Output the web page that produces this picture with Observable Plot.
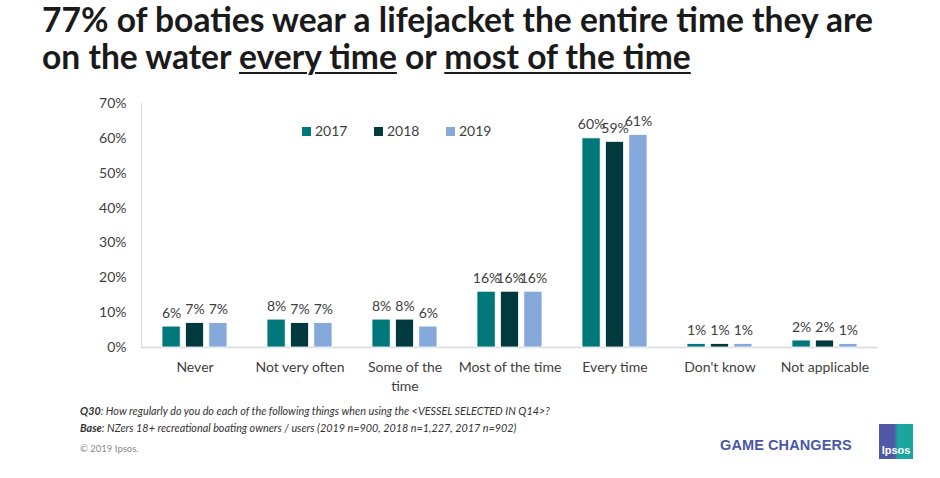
<!DOCTYPE html>
<html>
<head>
<meta charset="utf-8">
<script src="https://cdn.jsdelivr.net/npm/d3@7"></script>
<script src="https://cdn.jsdelivr.net/npm/@observablehq/plot@0.6"></script>
<style>
  html, body { margin: 0; padding: 0; background: #fff; }
  #wrap { position: relative; width: 940px; height: 478px; overflow: hidden; font-family: Lato, "Open Sans", sans-serif; color: #404040; }
  #title { position: absolute; left: 42px; top: 1px; font-weight: bold; font-size: 33.6px; line-height: 37px; color: #1a1a1a; white-space: nowrap; }
  #title u { text-decoration-thickness: 2px; text-underline-offset: 3px; }
  #chart { position: absolute; left: 0; top: 90px; }
  #legend { position: absolute; top: 122px; left: 0; font-size: 14px; color: #404040; }
  #legend span.item { position: absolute; white-space: nowrap; }
  #legend span.sw { display: inline-block; width: 9px; height: 9px; margin-right: 4px; vertical-align: 0px; }
  .foot { position: absolute; left: 80px; font-size: 10.8px; font-style: italic; color: #333; white-space: nowrap; }
  .foot b { font-style: italic; }
  #copy { position: absolute; left: 80px; top: 443px; font-size: 9.5px; color: #8a8a8a; }
  #gc { position: absolute; left: 720px; top: 437px; font-size: 14.5px; font-weight: bold; color: #4a58a8; font-family: "Liberation Sans", Arial, sans-serif; letter-spacing: 0.1px; }
  #logo { position: absolute; left: 879px; top: 424px; width: 34px; height: 35px; background: linear-gradient(90deg, #5159a6 0%, #5159a6 45%, #1aa59f 55%, #1aa59f 100%); }
  #logo span { position: absolute; bottom: 3px; left: 0; width: 34px; text-align: center; color: #fff; font-weight: bold; font-size: 11px; font-family: "Liberation Sans", Arial, sans-serif; }
</style>
</head>
<body>
<div id="wrap">
  <div id="title">77% of boaties wear a lifejacket the entire time they are<br>on the water <u>every time</u> or <u>most of the time</u></div>
  <div id="chart"></div>
  <div id="legend"></div>
  <div class="foot" style="top:404px"><b>Q30</b>: How regularly do you do each of the following things when using the &lt;VESSEL SELECTED IN Q14&gt;?</div>
  <div class="foot" style="top:421px"><b>Base</b>: NZers 18+ recreational boating owners / users (2019 n=900, 2018 n=1,227, 2017 n=902)</div>
  <div id="copy">© 2019 Ipsos.</div>
  <div id="gc">GAME CHANGERS</div>
  <div id="logo"><span>Ipsos</span></div>
</div>
<script>
const categories = ["Never", "Not very often", "Some of the time", "Most of the time", "Every time", "Don't know", "Not applicable"];
const years = ["2017", "2018", "2019"];
const values2017 = [6, 8, 8, 16, 60, 1, 2];
const values2018 = [7, 7, 8, 16, 59, 1, 2];
const values2019 = [7, 7, 6, 16, 61, 1, 1];
const colors = ["#00777b", "#003a3f", "#86a9dc"];
const yTicks = [0, 10, 20, 30, 40, 50, 60, 70];
const tickLabels = {"Some of the time": "Some of the\ntime"};

const series = [values2017, values2018, values2019];
const rows = [];
years.forEach((yr, i) => categories.forEach((c, j) => rows.push({cat: c, year: yr, value: series[i][j]})));

const offsets = [-23.4, 0, 23.4];
const inset = 43.4;

const marks = [];
years.forEach((yr, i) => {
  const data = rows.filter(d => d.year === yr);
  marks.push(Plot.barY(data, {x: "cat", y: "value", fill: colors[i], stroke: "#ffffff", strokeWidth: 0.8, insetLeft: inset, insetRight: inset, dx: offsets[i]}));
  marks.push(Plot.text(data, {x: "cat", y: "value", text: d => d.value + "%", dx: offsets[i], dy: -9, lineAnchor: "bottom", fontSize: 14, fill: "#404040"}));
});

const plot = Plot.plot({
  width: 940,
  height: 312,
  marginLeft: 141,
  marginRight: 62,
  marginTop: 13,
  marginBottom: 55,
  style: {fontFamily: "Lato, 'Open Sans', sans-serif", fontSize: "14px", color: "#404040", background: "transparent"},
  x: {domain: categories, padding: 0},
  y: {domain: [0, 70]},
  marks: [
    Plot.frame({anchor: "left", stroke: "#d9d9d9"}),
    Plot.ruleY([0], {stroke: "#d9d9d9", strokeWidth: 1.5}),
    Plot.axisY({ticks: yTicks, tickFormat: d => d + "%", tickSize: 0, tickPadding: 15, fontSize: 14, fill: "#404040", label: null}),
    Plot.axisX({tickSize: 0, tickPadding: 12, fontSize: 14, fill: "#404040", label: null, lineHeight: 1.3, tickFormat: d => tickLabels[d] || d}),
    ...marks
  ]
});
document.getElementById("chart").appendChild(plot);

const legend = document.getElementById("legend");
const legX = [302, 374, 446];
years.forEach((yr, i) => {
  const s = document.createElement("span");
  s.className = "item";
  s.style.left = legX[i] + "px";
  s.innerHTML = `<span class="sw" style="background:${colors[i]}"></span>${yr}`;
  legend.appendChild(s);
});
</script>
</body>
</html>
